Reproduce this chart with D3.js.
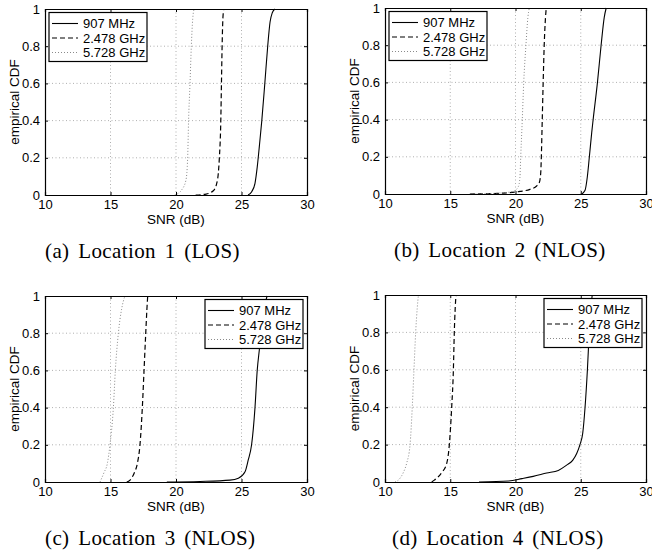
<!DOCTYPE html>
<html lang="en">
  <head>
    <meta charset="UTF-8" />
    <title>SNR empirical CDF</title>
    <style>
      body {
        margin: 0;
        background: #fff;
      }
      svg text {
        font-family: "Liberation Sans", Arial, sans-serif;
      }
      .caption {
        font-family: "Liberation Serif", "Times New Roman", serif !important;
      }
    </style>
  </head>
  <body>
    <svg id="chart" width="652" height="558"></svg>
  </body>
  <script src="https://cdn.jsdelivr.net/npm/d3@7"></script>
  <script>
    // tick values
    let xTicks = [10, 15, 20, 25, 30];
    let yTicks = [0, 0.2, 0.4, 0.6, 0.8, 1];
    let seriesNames = ["907 MHz", "2.478 GHz", "5.728 GHz"];
    let captions = [
      "(a) Location 1 (LOS)",
      "(b) Location 2 (NLOS)",
      "(c) Location 3 (NLOS)",
      "(d) Location 4 (NLOS)",
    ];

    // [SNR dB, CDF]
    let loc1_907 = [[25.5, 0], [25.78, 0.018], [26.03, 0.063], [26.2, 0.15], [26.36, 0.26], [26.55, 0.4], [26.78, 0.6], [27.0, 0.8], [27.18, 0.93], [27.35, 0.98], [27.55, 1]];
    let loc1_2478 = [[21.5, 0], [22.3, 0.005], [22.85, 0.023], [23.1, 0.06], [23.23, 0.117], [23.31, 0.2], [23.42, 0.4], [23.47, 0.6], [23.52, 0.8], [23.58, 0.95], [23.65, 1]];
    let loc1_5728 = [[19.9, 0], [20.2, 0.01], [20.43, 0.027], [20.76, 0.08], [20.89, 0.2], [20.96, 0.4], [21.07, 0.6], [21.17, 0.8], [21.28, 0.95], [21.38, 1]];

    let loc2_907 = [[25.07, 0], [25.33, 0.02], [25.5, 0.09], [25.66, 0.2], [25.84, 0.33], [25.95, 0.4], [26.28, 0.6], [26.56, 0.8], [26.8, 0.95], [26.95, 1]];
    let loc2_2478 = [[16.5, 0], [19.06, 0.005], [20.34, 0.014], [21.11, 0.025], [21.62, 0.043], [21.82, 0.06], [21.93, 0.11], [21.98, 0.2], [22.05, 0.4], [22.12, 0.6], [22.2, 0.8], [22.3, 0.95], [22.36, 1]];
    let loc2_5728 = [[16.7, 0], [18.5, 0.004], [19.83, 0.014], [20.22, 0.04], [20.34, 0.09], [20.4, 0.2], [20.52, 0.4], [20.63, 0.6], [20.8, 0.8], [20.95, 0.95], [21.06, 1]];

    let loc3_907 = [[19.3, 0], [21.83, 0.003], [24.12, 0.01], [24.76, 0.02], [25.27, 0.055], [25.52, 0.12], [25.77, 0.2], [26.03, 0.4], [26.2, 0.6], [26.36, 0.71], [26.5, 0.8], [26.68, 0.9], [26.85, 0.97], [26.95, 1]];
    let loc3_2478 = [[16.24, 0], [16.49, 0.01], [16.82, 0.05], [17.05, 0.1], [17.25, 0.2], [17.43, 0.4], [17.56, 0.6], [17.69, 0.8], [17.78, 0.93], [17.84, 1]];
    let loc3_5728 = [[14.2, 0], [14.5, 0.05], [14.76, 0.1], [14.96, 0.2], [15.22, 0.4], [15.37, 0.6], [15.6, 0.8], [15.85, 0.93], [16.1, 1]];

    let loc4_907 = [[17.2, 0], [19.48, 0.005], [20.5, 0.018], [21.36, 0.03], [22.39, 0.048], [23.28, 0.062], [23.92, 0.09], [24.38, 0.116], [24.69, 0.152], [24.94, 0.2], [25.15, 0.26], [25.33, 0.4], [25.51, 0.6], [25.65, 0.8], [25.76, 0.92], [25.88, 1]];
    let loc4_2478 = [[13.58, 0], [13.78, 0.01], [14.34, 0.05], [14.73, 0.1], [14.93, 0.2], [15.11, 0.4], [15.24, 0.6], [15.31, 0.8], [15.38, 0.93], [15.44, 1]];
    let loc4_5728 = [[10.77, 0], [11.02, 0.01], [11.4, 0.05], [11.66, 0.1], [11.92, 0.2], [12.09, 0.4], [12.22, 0.6], [12.35, 0.8], [12.47, 0.93], [12.56, 1]];

    let panels = [
      { series: [loc1_907, loc1_2478, loc1_5728], box: [45, 307, 9, 195], legend: "left", capX: 45 },
      { series: [loc2_907, loc2_2478, loc2_5728], box: [385, 646, 8, 194], legend: "left", capX: 394 },
      { series: [loc3_907, loc3_2478, loc3_5728], box: [45, 307, 296, 482], legend: "right", capX: 45 },
      { series: [loc4_907, loc4_2478, loc4_5728], box: [385, 646, 295, 482], legend: "right", capX: 392 },
    ];

    let styles = [
      { stroke: "#000", dash: null, width: 1.1 },
      { stroke: "#000", dash: "5,3", width: 1.2 },
      { stroke: "#8a8a8a", dash: "1,2", width: 1 },
    ];

    let svg = d3.select("#chart");

    panels.forEach((p, i) => {
      let [left, right, top, bottom] = p.box;
      let x = d3.scaleLinear().domain([10, 30]).range([left, right]);
      let y = d3.scaleLinear().domain([0, 1]).range([bottom, top]);
      let g = svg.append("g");

      // dotted grid
      g.selectAll(".gx")
        .data(xTicks.slice(1, -1))
        .enter()
        .append("line")
        .attr("x1", (d) => x(d))
        .attr("x2", (d) => x(d))
        .attr("y1", top)
        .attr("y2", bottom)
        .style("stroke", "#9a9a9a")
        .style("stroke-width", 0.8)
        .style("stroke-dasharray", "1,2.5");
      g.selectAll(".gy")
        .data(yTicks.slice(1, -1))
        .enter()
        .append("line")
        .attr("x1", left)
        .attr("x2", right)
        .attr("y1", (d) => y(d))
        .attr("y2", (d) => y(d))
        .style("stroke", "#9a9a9a")
        .style("stroke-width", 0.8)
        .style("stroke-dasharray", "1,2.5");

      // curves
      let line = d3
        .line()
        .x((d) => x(d[0]))
        .y((d) => y(d[1]))
        .curve(d3.curveMonotoneX);
      p.series.forEach((s, k) => {
        g.append("path")
          .attr("d", line(s))
          .style("fill", "none")
          .style("stroke", styles[k].stroke)
          .style("stroke-width", styles[k].width)
          .style("stroke-dasharray", styles[k].dash);
      });

      // axes with inward ticks on all sides
      let fmt = (d) => String(d);
      let axB = d3.axisBottom(x).tickValues(xTicks).tickSize(-3).tickPadding(5).tickFormat(fmt);
      let axT = d3.axisTop(x).tickValues(xTicks).tickSize(-3).tickFormat("");
      let axL = d3.axisLeft(y).tickValues(yTicks).tickSize(-3).tickPadding(5).tickFormat(fmt);
      let axR = d3.axisRight(y).tickValues(yTicks).tickSize(-3).tickFormat("");
      [
        [axB, `translate(0,${bottom})`],
        [axT, `translate(0,${top})`],
        [axL, `translate(${left},0)`],
        [axR, `translate(${right},0)`],
      ].forEach(([ax, tr]) => {
        let a = g.append("g").attr("transform", tr).call(ax);
        a.select(".domain").style("stroke", "#000").style("stroke-width", 1.2);
        a.selectAll(".tick line").style("stroke", "#000");
        a.selectAll("text").style("font-size", "13px").style("fill", "#000");
      });

      g.append("text")
        .attr("x", (left + right) / 2)
        .attr("y", bottom + 28.5)
        .attr("text-anchor", "middle")
        .style("font-size", "13.5px")
        .text("SNR (dB)");
      g.append("text")
        .attr("transform", `translate(${left - 26},${(top + bottom) / 2}) rotate(-90)`)
        .attr("text-anchor", "middle")
        .style("font-size", "13.5px")
        .text("empirical CDF");

      // legend
      let lw = 98, lh = 49;
      let lx = p.legend === "left" ? left + 4 : right - 4 - lw;
      let ly = top + 3.5;
      let lg = g.append("g").attr("transform", `translate(${lx},${ly})`);
      lg.append("rect")
        .attr("width", lw)
        .attr("height", lh)
        .style("fill", "#fff")
        .style("stroke", "#000")
        .style("stroke-width", 1.2);
      seriesNames.forEach((name, k) => {
        let by = 15.5 + k * 14.5;
        lg.append("line")
          .attr("x1", 3)
          .attr("x2", 29)
          .attr("y1", by - 4.5)
          .attr("y2", by - 4.5)
          .style("stroke", styles[k].stroke)
          .style("stroke-width", styles[k].width)
          .style("stroke-dasharray", styles[k].dash);
        lg.append("text")
          .attr("x", 34)
          .attr("y", by)
          .style("font-size", "13px")
          .text(name);
      });

      // caption
      svg.append("text")
        .attr("class", "caption")
        .attr("x", p.capX)
        .attr("y", bottom + 63)
        .style("font-size", "21px")
        .style("letter-spacing", "0.4px")
        .style("word-spacing", "3px")
        .text(captions[i]);
    });
  </script>
</html>
